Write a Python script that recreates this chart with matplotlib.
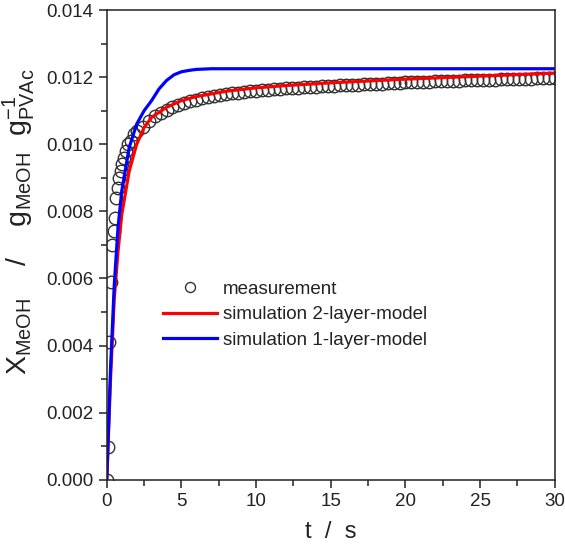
import numpy as np
import matplotlib
matplotlib.use("Agg")
import matplotlib.pyplot as plt
from matplotlib.ticker import MultipleLocator, FormatStrFormatter

plt.rcParams['font.family'] = ['Liberation Sans', 'DejaVu Sans']
plt.rcParams['mathtext.fontset'] = 'custom'
plt.rcParams['mathtext.rm'] = 'Liberation Sans'
plt.rcParams['mathtext.it'] = 'Liberation Sans'

# measurement (early part, irregular), then every 0.4 s
t_meas_early = [0.0, 0.07, 0.15, 0.25, 0.35, 0.45, 0.55, 0.65, 0.75, 0.85,
                0.95, 1.05, 1.15, 1.3, 1.45, 1.6, 1.8, 2.0]
x_meas_early = [0.0, 0.00097, 0.0041, 0.0059, 0.0070, 0.0074, 0.0078, 0.0084,
                0.0087, 0.0090, 0.0092, 0.0094, 0.0096, 0.0098, 0.0100, 0.0101,
                0.0103, 0.0104]
t_meas_late = np.arange(2.4, 30.01, 0.4)
x_meas_late = [0.01050, 0.01070, 0.01083, 0.01093, 0.01102, 0.01110, 0.01117,
               0.01123, 0.01128, 0.01133, 0.01137, 0.01141, 0.01144, 0.01147,
               0.01150, 0.01152, 0.01154, 0.01156, 0.01158, 0.01160, 0.01162,
               0.01163, 0.01165, 0.01166, 0.01167, 0.01168, 0.01169, 0.01170,
               0.01171, 0.01172, 0.01173, 0.01174, 0.01175, 0.01176, 0.01177,
               0.01178, 0.01178, 0.01179, 0.01180, 0.01181, 0.01181, 0.01182,
               0.01183, 0.01183, 0.01184, 0.01185, 0.01185, 0.01186, 0.01186,
               0.01187, 0.01188, 0.01188, 0.01189, 0.01189, 0.01190, 0.01190,
               0.01191, 0.01191, 0.01192, 0.01192, 0.01193, 0.01193, 0.01194,
               0.01194, 0.01195, 0.01195, 0.01196, 0.01196, 0.01197, 0.01197]

t_sim2 = [0, 0.25, 0.5, 0.75, 1, 1.5, 2, 2.5, 3, 3.5, 4, 5, 6, 7, 8, 10, 12, 15, 20, 25, 30]
x_sim2 = [0, 0.0030, 0.0054, 0.0068, 0.0079, 0.0092, 0.0100, 0.0105, 0.0108,
          0.01095, 0.0111, 0.01130, 0.01142, 0.01150, 0.01158, 0.01168,
          0.01175, 0.01183, 0.01194, 0.01203, 0.01212]

t_sim1 = [0, 0.25, 0.5, 0.75, 1, 1.5, 2, 2.5, 3, 3.5, 4, 4.5, 5, 5.5, 6, 7, 10, 20, 30]
x_sim1 = [0, 0.0033, 0.0058, 0.0075, 0.0086, 0.0099, 0.0106, 0.0110, 0.0113,
          0.01165, 0.0119, 0.01207, 0.01216, 0.0122, 0.01223, 0.01225, 0.01225,
          0.01225, 0.01225]

t_meas = np.concatenate([t_meas_early, t_meas_late])
x_meas = np.concatenate([x_meas_early, x_meas_late])

fig = plt.figure(figsize=(5.65, 5.56), dpi=100)
ax = fig.add_axes([0.189, 0.137, 0.793, 0.845])

ax.plot(t_meas, x_meas, 'o', mfc='none', mec='#333333', ms=9, mew=1.0,
        label='measurement')
ax.plot(t_sim2, x_sim2, color='#ff0000', lw=2.3, label='simulation 2-layer-model')
ax.plot(t_sim1, x_sim1, color='#0000ff', lw=2.3, label='simulation 1-layer-model')

ax.set_xlim(0, 30)
ax.set_ylim(0, 0.014)
ax.xaxis.set_major_locator(MultipleLocator(5))
ax.xaxis.set_minor_locator(MultipleLocator(2.5))
ax.yaxis.set_major_locator(MultipleLocator(0.002))
ax.yaxis.set_minor_locator(MultipleLocator(0.001))
ax.yaxis.set_major_formatter(FormatStrFormatter('%.3f'))
ax.tick_params(which='both', direction='out', width=1.1, labelsize=13.5,
               color='#222222', labelcolor='#222222')
ax.tick_params(which='major', length=6)
ax.tick_params(which='minor', length=4)
for s in ax.spines.values():
    s.set_linewidth(1.1)
    s.set_color('#222222')

ax.set_xlabel('t  /  s', fontsize=17, color='#222222', labelpad=8)
ax.set_ylabel(r'X$_\mathrm{MeOH}$    /    g$_\mathrm{MeOH}$  g$_\mathrm{PVAc}^{-1}$',
              fontsize=20.5, color='#222222')
ax.yaxis.set_label_coords(-0.155, 0.55)

leg = ax.legend(loc='upper left', bbox_to_anchor=(0.125, 0.424), frameon=False,
                fontsize=13.5, markerscale=0.8, handlelength=2.9,
                handletextpad=0.3, borderpad=0, borderaxespad=0,
                labelspacing=0.45)
for txt in leg.get_texts():
    txt.set_color('#222222')

fig.savefig('out.png', dpi=100)
